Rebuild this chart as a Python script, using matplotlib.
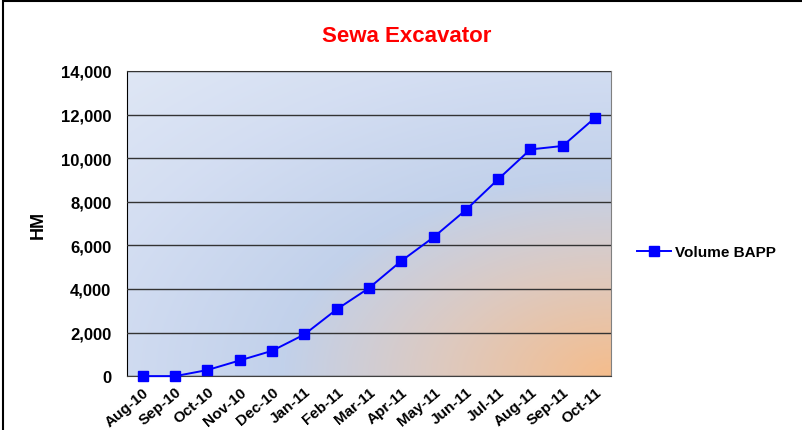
import numpy as np
import matplotlib
matplotlib.use('Agg')
import matplotlib.pyplot as plt
from matplotlib.patches import Rectangle

months = ['Aug-10', 'Sep-10', 'Oct-10', 'Nov-10', 'Dec-10', 'Jan-11', 'Feb-11',
          'Mar-11', 'Apr-11', 'May-11', 'Jun-11', 'Jul-11', 'Aug-11', 'Sep-11', 'Oct-11']
volume = [0, 0, 280, 720, 1160, 1910, 3060, 4040, 5280, 6370, 7620, 9030, 10400, 10560, 11850]
yticks = [0, 2000, 4000, 6000, 8000, 10000, 12000, 14000]

plt.rcParams['font.family'] = ['Liberation Sans', 'DejaVu Sans']
fig = plt.figure(figsize=(8.02, 4.31), dpi=100)
ax = fig.add_axes([0.158, 0.125, 0.604, 0.708])

# background: radial gradient from orange (bottom right) through blue to light blue
h, w = 200, 300
yy, xx = np.mgrid[0:1:h * 1j, 0:1:w * 1j]
d = np.sqrt((1 - xx) ** 2 + (yy * 1.05) ** 2)
stops = [0, 0.35, 0.68, 1.1, 1.5]
cols = np.array([[0.96, 0.74, 0.55],
                 [0.87, 0.79, 0.75],
                 [0.76, 0.82, 0.92],
                 [0.83, 0.87, 0.95],
                 [0.88, 0.91, 0.96]])
img = np.stack([np.interp(d, stops, cols[:, i]) for i in range(3)], axis=-1)
ax.imshow(img, extent=[0, 1, 0, 1], origin='lower', transform=ax.transAxes,
          aspect='auto', zorder=0)

x = np.arange(len(months))
ax.plot(x, volume, color='#0000ff', lw=1.4, marker='s', ms=7.5,
        label='Volume BAPP', zorder=3, clip_on=False)

ax.set_xlim(-0.5, len(months) - 0.5)
ax.set_ylim(0, 14000)
ax.set_yticks(yticks)
ax.set_yticklabels([f'{v:,}' for v in yticks], fontsize=12, fontweight='bold')
ax.set_xticks(x)
ax.set_xticklabels(months, rotation=40, ha='right', rotation_mode='anchor',
                   fontsize=11, fontweight='bold')
ax.tick_params(axis='x', length=0, pad=6)
ax.tick_params(axis='y', length=0, pad=11)
ax.grid(axis='y', color='#333333', lw=1, zorder=1)
ax.set_axisbelow(False)
for s in ['top', 'right']:
    ax.spines[s].set_color('#808080')
ax.spines['left'].set_color('black')
ax.spines['bottom'].set_color('#404040')

ax.set_ylabel('HM', fontsize=13, fontweight='bold', labelpad=10)
fig.text(0.507, 0.915, 'Sewa Excavator', color='red', fontsize=16,
         fontweight='bold', ha='center', va='center')

leg = ax.legend(loc='center left', bbox_to_anchor=(1.025, 0.407), frameon=False,
                prop={'weight': 'bold', 'size': 11}, handlelength=2.2,
                handletextpad=0.3)

fig.patches.append(Rectangle((0.004, -0.05), 1.2, 1.045, transform=fig.transFigure,
                             fill=False, ec='black', lw=1.5))

fig.savefig('out.png', dpi=100)
